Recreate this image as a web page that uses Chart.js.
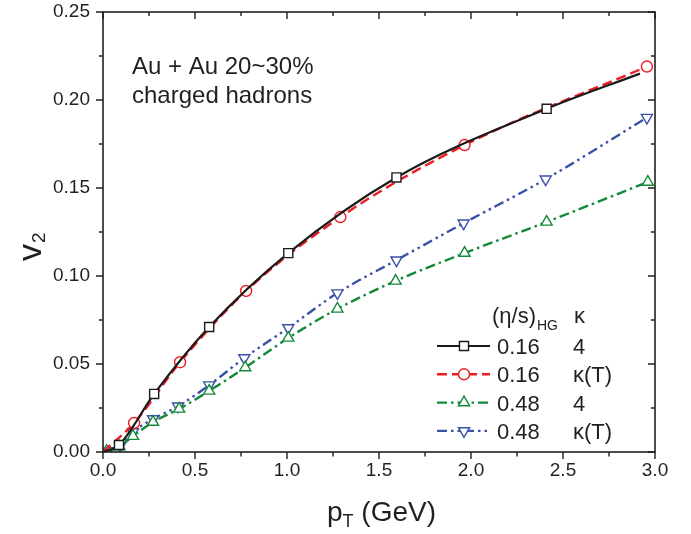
<!DOCTYPE html>
<html>
<head>
<meta charset="utf-8">
<script src="https://cdn.jsdelivr.net/npm/chart.js@4/dist/chart.umd.min.js"></script>
<style>
  html, body { margin: 0; padding: 0; background: #fff; }
  #wrap { width: 691px; height: 534px; }
</style>
</head>
<body>
<div id="wrap"><canvas id="v2-chart" width="691" height="534"></canvas></div>
<script>
// Dados (pT em GeV, v2)
const ptBlack = [0.0, 0.087, 0.278, 0.577, 1.007, 1.595, 2.411, 2.918];
const v2Black = [0.0, 0.004, 0.033, 0.071, 0.113, 0.156, 0.195, 0.215];

const ptRed = [0.0, 0.169, 0.419, 0.778, 1.290, 1.965, 2.956];
const v2Red = [0.0, 0.0165, 0.051, 0.0915, 0.1335, 0.1744, 0.219];

const ptGreen = [0.02, 0.09, 0.163, 0.272, 0.414, 0.577, 0.773, 1.007, 1.274, 1.590, 1.965, 2.411, 2.961];
const v2Green = [0.0005, 0.003, 0.009, 0.017, 0.0245, 0.0347, 0.048, 0.0648, 0.0813, 0.0972, 0.113, 0.1307, 0.1534];

const ptBlue = [0.027, 0.093, 0.163, 0.272, 0.408, 0.577, 0.768, 1.007, 1.274, 1.595, 1.960, 2.406, 2.956];
const v2Blue = [0.0006, 0.0034, 0.0114, 0.0188, 0.026, 0.038, 0.0534, 0.0705, 0.0903, 0.109, 0.130, 0.155, 0.190];

// Rótulos dos eixos e legenda
const xTicks = [0, 0.5, 1.0, 1.5, 2.0, 2.5, 3.0];
const yTicks = [0, 0.05, 0.10, 0.15, 0.20, 0.25];
const legendEta = ["0.16", "0.16", "0.48", "0.48"];
const legendKappa = ["4", "\u03ba(T)", "4", "\u03ba(T)"];
const annotationLines = ["Au + Au 20~30%", "charged hadrons"];

const FONT = "'Liberation Sans', Arial, Helvetica, sans-serif";
const TEXT_COLOR = "#231f20";

function toPoints(xs, ys) {
  return xs.map((x, i) => ({ x: x, y: ys[i] }));
}

// raio 0 nos pontos extremos sem marcador
function radii(xs, r, hideFirst, hideLast) {
  return xs.map((_, i) => {
    if (hideFirst && i === 0) return 0;
    if (hideLast && i === xs.length - 1) return 0;
    return r;
  });
}

const datasets = [
  {
    label: "0.16 4",
    data: toPoints(ptBlack, v2Black),
    borderColor: "#1a1a1a",
    pointBorderColor: "#1a1a1a",
    borderWidth: 2.2,
    pointStyle: "rect",
    pointRadius: radii(ptBlack, 6.4, true, true),
    pointRotation: 0,
    borderDash: [],
  },
  {
    label: "0.16 k(T)",
    data: toPoints(ptRed, v2Red),
    borderColor: "#ec1c24",
    pointBorderColor: "#ec1c24",
    borderWidth: 2.4,
    pointStyle: "circle",
    pointRadius: radii(ptRed, 5.5, true, false),
    pointRotation: 0,
    borderDash: [10, 5],
  },
  {
    label: "0.48 4",
    data: toPoints(ptGreen, v2Green),
    borderColor: "#138a3a",
    pointBorderColor: "#138a3a",
    borderWidth: 2.4,
    pointStyle: "triangle",
    pointRadius: radii(ptGreen, 6.4, false, false),
    pointRotation: 0,
    borderDash: [10, 4, 2.5, 4],
  },
  {
    label: "0.48 k(T)",
    data: toPoints(ptBlue, v2Blue),
    borderColor: "#3a52a5",
    pointBorderColor: "#3a52a5",
    borderWidth: 2.4,
    pointStyle: "triangle",
    pointRadius: radii(ptBlue, 6.4, false, false),
    pointRotation: 180,
    borderDash: [10, 4, 2.5, 4, 2.5, 4],
  },
];

datasets.forEach((d) => {
  d.backgroundColor = "#ffffff";
  d.pointBackgroundColor = "#ffffff";
  d.pointBorderWidth = 1.4;
  d.pointHoverRadius = d.pointRadius;
  d.fill = false;
  d.cubicInterpolationMode = "monotone";
});

function midpoints(arr) {
  const out = [];
  for (let i = 0; i < arr.length - 1; i++) out.push((arr[i] + arr[i + 1]) / 2);
  return out;
}

// Plugin para moldura, marcas, títulos, anotação e legenda
const framePlugin = {
  id: "frame",
  afterDraw(chart) {
    const ctx = chart.ctx;
    const xs = chart.scales.x;
    const ys = chart.scales.y;
    const a = chart.chartArea;

    ctx.save();
    ctx.strokeStyle = TEXT_COLOR;
    ctx.lineWidth = 1.6;
    ctx.strokeRect(a.left, a.top, a.right - a.left, a.bottom - a.top);

    ctx.lineWidth = 1.4;
    ctx.beginPath();
    xTicks.forEach((v) => {
      const px = xs.getPixelForValue(v);
      ctx.moveTo(px, a.bottom); ctx.lineTo(px, a.bottom + 7);
      ctx.moveTo(px, a.top); ctx.lineTo(px, a.top + 7);
    });
    midpoints(xTicks).forEach((v) => {
      const px = xs.getPixelForValue(v);
      ctx.moveTo(px, a.bottom); ctx.lineTo(px, a.bottom + 4.5);
      ctx.moveTo(px, a.top); ctx.lineTo(px, a.top + 4);
    });
    yTicks.forEach((v) => {
      const py = ys.getPixelForValue(v);
      ctx.moveTo(a.left, py); ctx.lineTo(a.left - 7, py);
      ctx.moveTo(a.right, py); ctx.lineTo(a.right - 7, py);
    });
    midpoints(yTicks).forEach((v) => {
      const py = ys.getPixelForValue(v);
      ctx.moveTo(a.left, py); ctx.lineTo(a.left - 4, py);
      ctx.moveTo(a.right, py); ctx.lineTo(a.right - 4, py);
    });
    ctx.stroke();

    ctx.fillStyle = TEXT_COLOR;
    ctx.textBaseline = "alphabetic";
    ctx.textAlign = "left";

    // título do eixo x: p_T (GeV)
    let x = 327;
    const by = 521;
    ctx.font = "28px " + FONT;
    ctx.fillText("p", x, by);
    x += ctx.measureText("p").width;
    ctx.font = "18px " + FONT;
    ctx.fillText("T", x, by + 6);
    x += ctx.measureText("T").width;
    ctx.font = "28px " + FONT;
    ctx.fillText(" (GeV)", x, by);

    // título do eixo y: v_2
    ctx.save();
    ctx.translate(41, 261);
    ctx.rotate(-Math.PI / 2);
    ctx.font = "34px " + FONT;
    ctx.fillText("v", 0, 0);
    const vw = ctx.measureText("v").width;
    ctx.font = "19px " + FONT;
    ctx.fillText("2", vw + 1, 4);
    ctx.restore();

    // anotação
    ctx.font = "24px " + FONT;
    ctx.fillText(annotationLines[0], 132, 74);
    ctx.fillText(annotationLines[1], 132, 103);

    // legenda
    ctx.font = "22px " + FONT;
    ctx.fillText("(\u03b7/s)", 492, 323);
    const hw = ctx.measureText("(\u03b7/s)").width;
    ctx.font = "14px " + FONT;
    ctx.fillText("HG", 492 + hw + 1, 330);
    ctx.font = "22px " + FONT;
    ctx.fillText("\u03ba", 574, 323);

    datasets.forEach((d, i) => {
      const cy = 346 + i * 28.3;
      ctx.save();
      ctx.strokeStyle = d.borderColor;
      ctx.lineWidth = d.borderWidth;
      ctx.setLineDash(d.borderDash);
      ctx.beginPath();
      ctx.moveTo(437, cy);
      ctx.lineTo(490, cy);
      ctx.stroke();
      ctx.setLineDash([]);
      ctx.fillStyle = "#ffffff";
      ctx.strokeStyle = d.pointBorderColor;
      ctx.lineWidth = d.pointBorderWidth;
      Chart.helpers.drawPoint(ctx, {
        pointStyle: d.pointStyle,
        radius: Math.max(...d.pointRadius),
        rotation: d.pointRotation,
        borderWidth: d.pointBorderWidth,
      }, 464, cy);
      ctx.restore();

      ctx.font = "22px " + FONT;
      ctx.fillStyle = TEXT_COLOR;
      ctx.fillText(legendEta[i], 497, cy + 8);
      ctx.fillText(legendKappa[i], 573, cy + 8);
    });

    ctx.restore();
  },
};

// remove o espaço extra que o Chart.js reserva para os rótulos
function noPadding(s) {
  s.paddingTop = 0;
  s.paddingBottom = 0;
  s.paddingLeft = 0;
  s.paddingRight = 0;
}

function init() {
  const ctx = document.getElementById("v2-chart").getContext("2d");
  new Chart(ctx, {
    type: "line",
    data: { datasets: datasets },
    options: {
      responsive: false,
      animation: false,
      layout: { padding: { top: 12, right: 36, left: 0, bottom: 0 } },
      plugins: { legend: { display: false }, tooltip: { enabled: false } },
      elements: { line: { tension: 0 } },
      scales: {
        x: {
          type: "linear",
          min: 0,
          max: 3,
          afterBuildTicks: (s) => { s.ticks = xTicks.map((v) => ({ value: v })); },
          afterFit: (s) => { s.height = 82; noPadding(s); },
          ticks: {
            callback: (v) => Number(v).toFixed(1),
            font: { family: FONT, size: 19 },
            color: TEXT_COLOR,
            padding: 7,
            maxRotation: 0,
          },
          grid: { display: false, drawTicks: false },
          border: { display: false },
        },
        y: {
          type: "linear",
          min: 0,
          max: 0.25,
          afterBuildTicks: (s) => { s.ticks = yTicks.map((v) => ({ value: v })); },
          afterFit: (s) => { s.width = 103; noPadding(s); },
          ticks: {
            callback: (v) => Number(v).toFixed(2),
            font: { family: FONT, size: 19 },
            color: TEXT_COLOR,
            padding: 13,
          },
          grid: { display: false, drawTicks: false },
          border: { display: false },
        },
      },
    },
    plugins: [framePlugin],
  });
}

document.addEventListener("DOMContentLoaded", init);
</script>
</body>
</html>
